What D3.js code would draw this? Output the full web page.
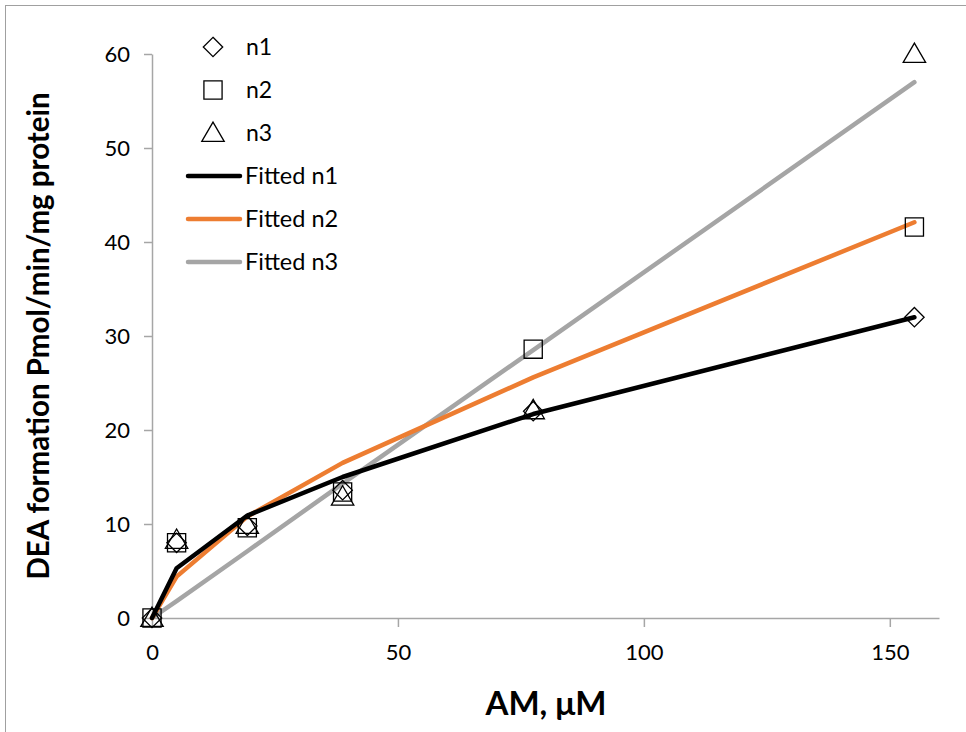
<html>
<head>
<meta charset="utf-8">
<script src="https://d3js.org/d3.v7.min.js"></script>
<style>
html, body {margin:0; padding:0; background:#fff;}
svg {display:block;}
text {font-family:Lato,"Open Sans",Arial,sans-serif;}
</style>
</head>
<body>
<svg class="svg"></svg>
<script>

// AM concentrations (uM)
const conc = [0, 5, 19.375, 38.75, 77.5, 155]

// measured DEA formation
const n1 = [0, 8.0, 9.8, 13.6, 22.0, 32.0]
const n2 = [0, 8.0, 9.6, 13.4, 28.6, 41.6]
const n3 = [0, 8.3, 9.9, 12.9, 22.1, 60.0]

// fitted curves at the same concentrations
const fit1 = [0, 5.3, 10.9, 15.0, 21.7, 32.0]
const fit2 = [0, 4.4, 10.8, 16.5, 25.6, 42.1]
const fit3 = [0, 1.8, 7.1, 14.3, 28.5, 57.0]

const xTicks = [0, 50, 100, 150]
const yTicks = [0, 10, 20, 30, 40, 50, 60]

const W = 966, H = 732
const plot = {left:152, right:939, top:54, bottom:618}

const svg = d3.select("svg").attr("width", W).attr("height", H)

// chart area border
svg.append("rect")
  .attr("x", 5.5).attr("y", 5.5)
  .attr("width", W + 20).attr("height", H + 20)
  .attr("fill", "#fff")
  .attr("stroke", "#a0a0a0")
  .attr("stroke-width", 1)

const xScale = d3.scaleLinear().domain([0, 160]).range([plot.left, plot.right])
const yScale = d3.scaleLinear().domain([0, 60]).range([plot.bottom, plot.top])

// x axis
const xAxis = svg.append("g")
  .attr("transform", "translate(0," + plot.bottom + ")")
  .call(d3.axisBottom(xScale).tickValues(xTicks).tickSize(9).tickSizeOuter(0).tickPadding(17))
xAxis.select(".domain").attr("stroke", "#a6a6a6").attr("stroke-width", 1.5)
xAxis.selectAll(".tick line").attr("stroke", "#a6a6a6").attr("stroke-width", 1.5)
xAxis.selectAll(".tick text").style("font-size", "22px").attr("fill", "#000")

// y axis
const yAxis = svg.append("g")
  .attr("transform", "translate(" + plot.left + ",0)")
  .call(d3.axisLeft(yScale).tickValues(yTicks).tickSize(8).tickSizeOuter(0).tickPadding(14))
yAxis.select(".domain").attr("stroke", "#a6a6a6").attr("stroke-width", 1.5)
yAxis.selectAll(".tick line").attr("stroke", "#a6a6a6").attr("stroke-width", 1.5)
yAxis.selectAll(".tick text").style("font-size", "22px").attr("fill", "#000").attr("dy", "0.35em")

// fitted lines
const line = d3.line()
  .x((d, i) => xScale(conc[i]))
  .y(d => yScale(d))

const fits = [
  {name:"Fitted n1", vals:fit1, color:"#000000"},
  {name:"Fitted n2", vals:fit2, color:"#ed7d31"},
  {name:"Fitted n3", vals:fit3, color:"#a5a5a5"}
]

// draw n3 first so black sits on top
fits.slice().reverse().forEach(f => {
  svg.append("path")
    .datum(f.vals)
    .attr("d", line)
    .attr("fill", "none")
    .attr("stroke", f.color)
    .attr("stroke-width", 4.5)
    .attr("stroke-linejoin", "round")
    .attr("stroke-linecap", "round")
})

// markers
const sym = {
  n1: d3.symbol().type(d3.symbolDiamond2).size(240),
  n2: d3.symbol().type(d3.symbolSquare2).size(420),
  n3: d3.symbol().type(d3.symbolTriangle2).size(360)
}
const series = [
  {name:"n1", vals:n1},
  {name:"n2", vals:n2},
  {name:"n3", vals:n3}
]

series.forEach(s => {
  svg.append("g").selectAll("path")
    .data(s.vals)
    .enter().append("path")
    .attr("d", sym[s.name])
    .attr("transform", (d, i) => "translate(" + xScale(conc[i]) + "," + (yScale(d) + (s.name == "n3" ? 2 : 0)) + ")")
    .attr("fill", "none")
    .attr("stroke", "#000")
    .attr("stroke-width", 1.3)
})

// legend
const leg = svg.append("g")
series.forEach((s, i) => {
  const y = 47 + i * 43
  leg.append("path")
    .attr("d", sym[s.name])
    .attr("transform", "translate(213," + (y + (s.name == "n3" ? 2 : 0)) + ")")
    .attr("fill", "none")
    .attr("stroke", "#000")
    .attr("stroke-width", 1.3)
  leg.append("text")
    .attr("x", 246).attr("y", y)
    .attr("dy", "0.35em")
    .style("font-size", "23px")
    .text(s.name)
})
fits.forEach((f, i) => {
  const y = 176 + i * 43
  leg.append("line")
    .attr("x1", 188).attr("x2", 240)
    .attr("y1", y).attr("y2", y)
    .attr("stroke", f.color)
    .attr("stroke-width", 4.5)
    .attr("stroke-linecap", "round")
  leg.append("text")
    .attr("x", 245).attr("y", y)
    .attr("dy", "0.35em")
    .style("font-size", "23.5px")
    .text(f.name)
})

// axis titles
svg.append("text")
  .attr("x", 546).attr("y", 715)
  .attr("text-anchor", "middle")
  .style("font-size", "33px")
  .style("font-weight", "bold")
  .text("AM, \u03bcM")

svg.append("text")
  .attr("transform", "translate(49,336) rotate(-90)")
  .attr("text-anchor", "middle")
  .style("font-size", "29.5px")
  .style("font-weight", "bold")
  .text("DEA formation Pmol/min/mg protein")

</script>
</body>
</html>
